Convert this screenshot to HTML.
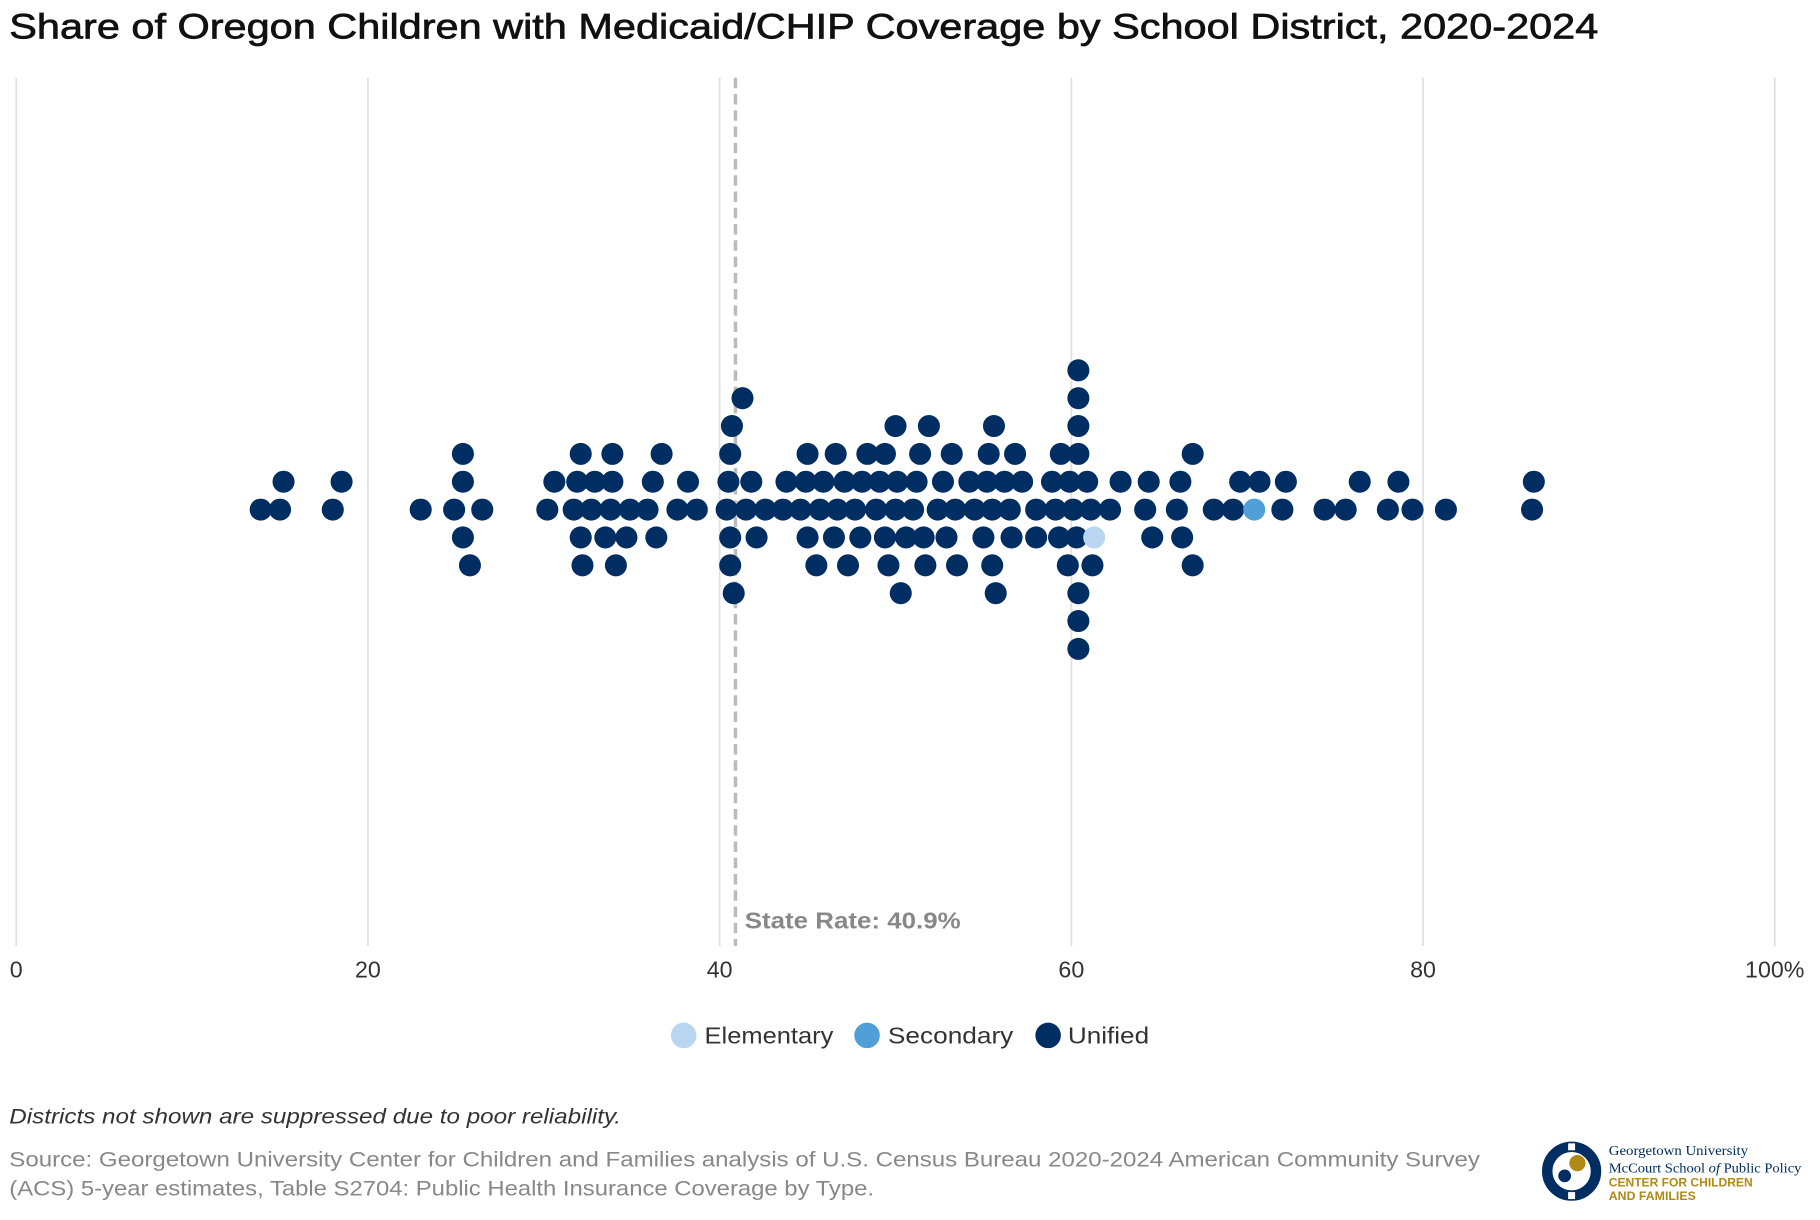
<!DOCTYPE html>
<html><head><meta charset="utf-8"><style>
html,body{margin:0;padding:0;background:#fff;}
svg{display:block;font-family:"Liberation Sans",sans-serif;}
</style></head><body>
<svg id="chart" width="1820" height="1220" viewBox="0 0 1568 1051" xmlns="http://www.w3.org/2000/svg">
<text x="8" y="33" font-size="30" fill="#111" stroke="#111" stroke-width="0.6" textLength="1369" lengthAdjust="spacingAndGlyphs">Share of Oregon Children with Medicaid/CHIP Coverage by School District, 2020-2024</text>
<g id="grid"></g>
<g id="ticks"></g>
<line id="stateLine" y1="67" y2="815" stroke="#bbb" stroke-width="3" stroke-dasharray="9,5"/>
<text id="stateLabel" y="800" font-size="20" fill="#888" font-weight="bold" textLength="186" lengthAdjust="spacingAndGlyphs">State Rate: 40.9%</text>
<g id="dots"></g>
<g>
<g><circle cx="589" cy="892" r="11" fill="#b9d6f0"/><text x="607" y="899" font-size="20" fill="#333" textLength="111" lengthAdjust="spacingAndGlyphs">Elementary</text></g>
<g><circle cx="747" cy="892" r="11" fill="#509fd6"/><text x="765" y="899" font-size="20" fill="#333" textLength="108" lengthAdjust="spacingAndGlyphs">Secondary</text></g>
<g><circle cx="903" cy="892" r="11" fill="#002d62"/><text x="920" y="899" font-size="20" fill="#333" textLength="70" lengthAdjust="spacingAndGlyphs">Unified</text></g>
</g>
<text x="8" y="968" font-size="18" fill="#333" font-style="italic" textLength="527" lengthAdjust="spacingAndGlyphs">Districts not shown are suppressed due to poor reliability.</text>
<text x="8" y="1005" font-size="18" fill="#888" textLength="1267" lengthAdjust="spacingAndGlyphs">Source: Georgetown University Center for Children and Families analysis of U.S. Census Bureau 2020-2024 American Community Survey</text>
<text x="8" y="1030" font-size="18" fill="#888" textLength="745" lengthAdjust="spacingAndGlyphs">(ACS) 5-year estimates, Table S2704: Public Health Insurance Coverage by Type.</text>
<g>
<circle cx="1354" cy="1009" r="21" fill="none" stroke="#002d62" stroke-width="9"/>
<rect x="1351" y="985" width="6" height="6" fill="#fff"/><rect x="1351" y="1027" width="6" height="6" fill="#fff"/>
<circle cx="1359" cy="1002" r="7" fill="#b08a14"/><circle cx="1348" cy="1013" r="5.5" fill="#002d62"/>
<text x="1386" y="995" font-size="12" fill="#002d62" font-family="Liberation Serif,serif" textLength="120" lengthAdjust="spacingAndGlyphs">Georgetown University</text>
<text x="1386" y="1010" font-size="12" fill="#002d62" font-family="Liberation Serif,serif" textLength="166" lengthAdjust="spacingAndGlyphs">McCourt School <tspan font-style="italic">of</tspan> Public Policy</text>
<text x="1386" y="1022" font-size="10" fill="#b08a14" font-weight="bold" textLength="124" lengthAdjust="spacingAndGlyphs">CENTER FOR CHILDREN</text>
<text x="1386" y="1034" font-size="10" fill="#b08a14" font-weight="bold" textLength="75" lengthAdjust="spacingAndGlyphs">AND FAMILIES</text>
</g>
</svg>
<script>
const tickValues = [0, 20, 40, 60, 80, 100];
const tickLabels = ["0", "20", "40", "60", "80", "100%"];
const stateRate = 40.9;
const unifiedValues = [13.9,15.0,15.2,18.0,18.5,23.0,24.9,25.4,25.4,25.4,25.8,26.5,
30.2,30.6,31.7,31.9,32.1,32.1,32.2,32.7,32.9,33.5,33.8,33.9,33.9,34.1,34.7,34.9,35.9,36.2,36.4,36.7,37.6,38.2,38.7,
40.4,40.5,40.6,40.6,40.6,40.7,40.8,41.3,41.5,41.8,42.1,42.6,43.6,43.8,44.6,44.9,45.0,45.0,45.5,45.7,45.9,46.5,46.6,46.7,47.1,47.3,47.7,48.0,48.1,48.4,48.9,49.1,49.4,49.4,49.6,50.0,50.0,50.1,50.3,50.6,51.0,51.2,51.4,51.6,51.7,51.9,52.4,52.7,52.9,53.2,53.4,53.5,54.2,54.5,55.0,55.2,55.3,55.5,55.5,55.6,55.7,56.2,56.5,56.6,56.8,57.2,58.0,58.0,58.9,59.1,59.3,59.4,59.8,59.9,60.1,60.3,60.4,60.4,60.4,60.4,60.4,60.4,60.4,60.9,61.1,61.2,62.2,62.8,64.2,64.4,64.6,66.0,66.2,66.3,66.9,66.9,68.1,69.2,69.6,70.7,72.0,72.2,74.4,75.6,76.4,78.0,78.6,79.4,81.3,86.2,86.3];
const elementaryValues = [61.3];
const secondaryValues = [70.4];

const NS = "http://www.w3.org/2000/svg";
const X0 = 14, X1 = 1529, CY = 439, R = 9.5, DX = 15, ROW = 24;
function xScale(v){ return X0 + (X1 - X0) * v / 100; }

const grid = document.getElementById('grid'), ticks = document.getElementById('ticks');
tickValues.forEach((t, i) => {
  const l = document.createElementNS(NS, 'line');
  
  
  l.setAttribute('x1', xScale(t)); l.setAttribute('x2', xScale(t));
  l.setAttribute('y1', 67); l.setAttribute('y2', 815);
  l.setAttribute('stroke', '#e0e0e0'); l.setAttribute('stroke-width', 1.5);
  grid.appendChild(l);
  const tx = document.createElementNS(NS, 'text');
  
  
  tx.setAttribute('x', xScale(t)); tx.setAttribute('y', 842);
  tx.setAttribute('font-size', 20); tx.setAttribute('fill', '#333');
  tx.setAttribute('text-anchor', 'middle');
  tx.textContent = tickLabels[i];
  ticks.appendChild(tx);
});
const sl = document.getElementById('stateLine');
sl.setAttribute('x1', xScale(stateRate)); sl.setAttribute('x2', xScale(stateRate));
document.getElementById('stateLabel').setAttribute('x', xScale(stateRate) + 8);

const pts = [];
unifiedValues.forEach(v => pts.push({v, c: '#002d62', n: 'unified-dot'}));
elementaryValues.forEach(v => pts.push({v, c: '#b9d6f0', n: 'elementary-dot'}));
secondaryValues.forEach(v => pts.push({v, c: '#509fd6', n: 'secondary-dot'}));
pts.sort((a, b) => a.v - b.v);
const placed = [];
const rowOrder = [0, 1, -1, 2, -2, 3, -3, 4, -4, 5, -5, 6, -6];
pts.forEach(p => {
  const x = xScale(p.v);
  let k = 0;
  for (const r of rowOrder) {
    if (placed.every(q => q.k !== r || Math.abs(q.x - x) >= DX)) { k = r; break; }
  }
  placed.push({x, k, p});
});
const dots = document.getElementById('dots');
placed.forEach(d => {
  const c = document.createElementNS(NS, 'circle');
  
  
  c.setAttribute('cx', d.x); c.setAttribute('cy', CY - d.k * ROW);
  c.setAttribute('r', R); c.setAttribute('fill', d.p.c);
  dots.appendChild(c);
});
</script>
</body></html>
